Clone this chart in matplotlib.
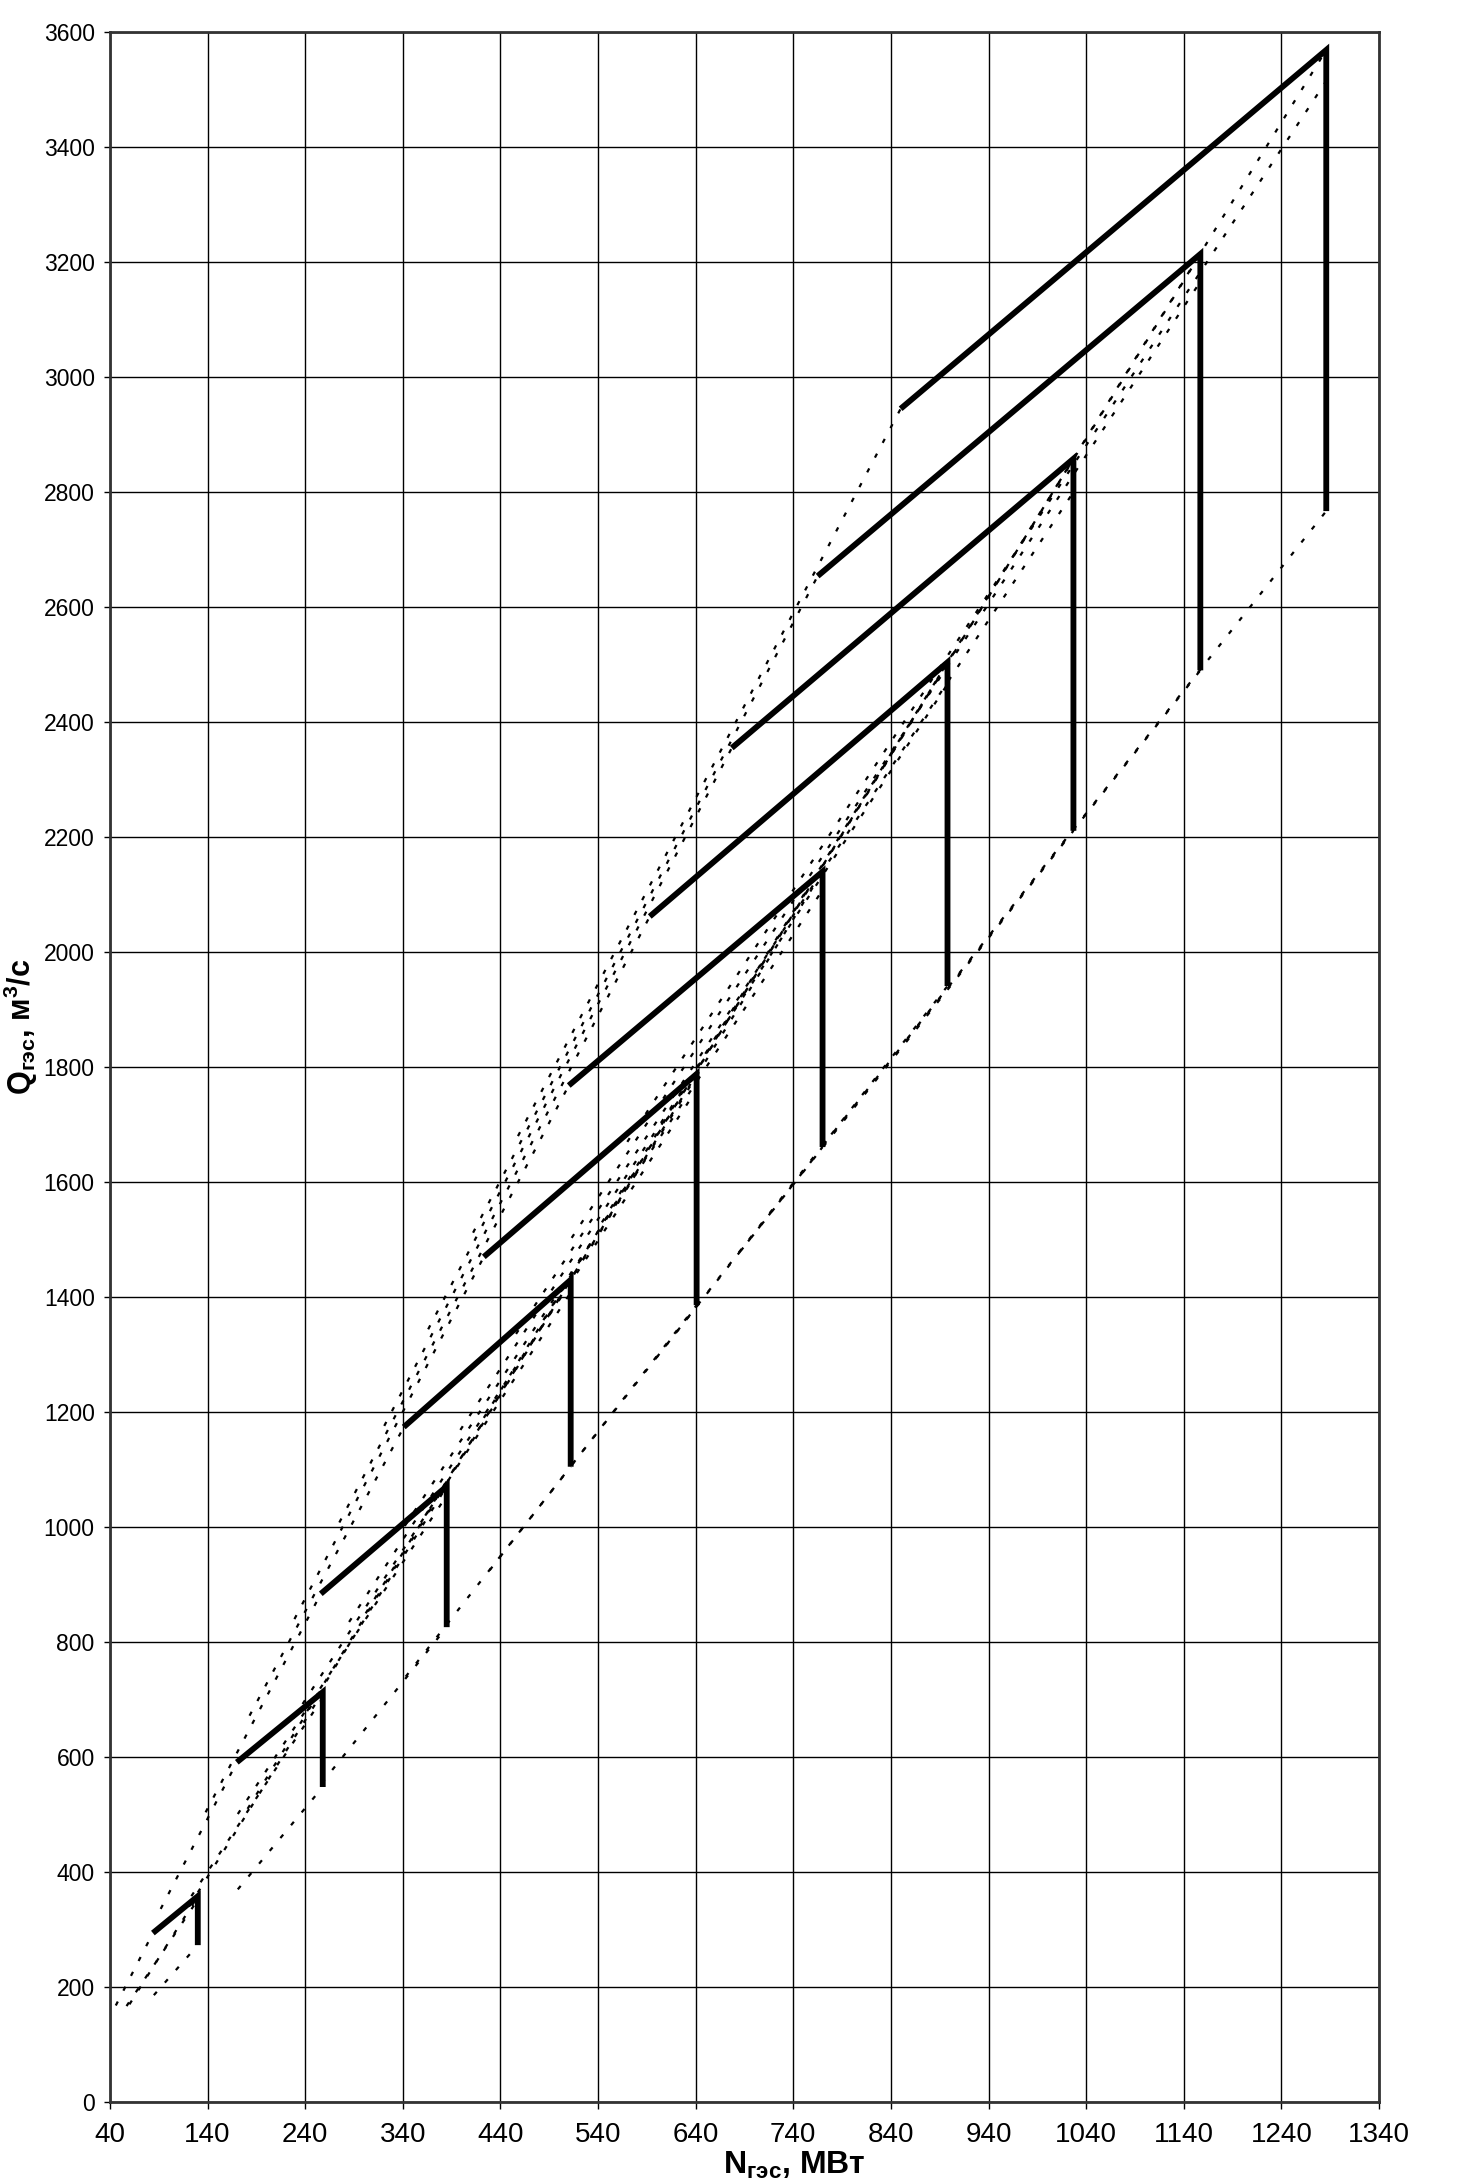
import matplotlib
matplotlib.use("Agg")
import matplotlib.pyplot as plt

plt.rcParams['font.family'] = ['Liberation Sans', 'DejaVu Sans']
plt.rcParams['mathtext.fontset'] = 'custom'
plt.rcParams['mathtext.rm'] = 'Liberation Sans'
plt.rcParams['mathtext.bf'] = 'Liberation Sans:bold'
plt.rcParams['mathtext.it'] = 'Liberation Sans:italic'

# number of working units, 1..10
units = [1, 2, 3, 4, 5, 6, 7, 8, 9, 10]

# solid line: start of zone -> top -> down the vertical (limit by power)
n_start = [84, 170, 256, 341, 423, 510, 593, 677, 765, 850]
q_start = [294, 591, 884, 1174, 1470, 1768, 2062, 2355, 2654, 2945]
n_max = [130, 258, 385, 512, 641, 770, 898, 1027, 1157, 1286]
q_max = [358, 713, 1071, 1430, 1788, 2140, 2504, 2858, 3214, 3569]
q_low = [273, 548, 826, 1105, 1386, 1661, 1941, 2211, 2490, 2767]

# dotted lines, lower-left ends (estimated)
# upper set -> ends at zone start
n_a = [46, 92, 138, 183, 229, 275, 321, 366, 412, 458]
q_a = [168, 336, 504, 672, 840, 1008, 1176, 1344, 1512, 1680]
# middle set -> ends at top
n_b = [60, 121, 181, 242, 302, 363, 423, 484, 544, 605]
q_b = [170, 340, 510, 680, 850, 1020, 1190, 1360, 1530, 1700]
# second middle set -> ends on vertical just below top
n_d = [57, 114, 171, 228, 285, 342, 399, 456, 513, 570]
q_d = [167, 334, 501, 668, 835, 1002, 1169, 1336, 1503, 1670]
q_d_end = [352, 703, 1055, 1408, 1761, 2108, 2466, 2800, 3166, 3515]
# lower set -> ends at bottom of vertical
n_c = [85, 171, 257, 343, 429, 514, 600, 686, 771, 857]
q_c = [186, 370, 555, 740, 925, 1110, 1295, 1480, 1665, 1850]

x_ticks = list(range(40, 1341, 100))
y_ticks = list(range(0, 3601, 200))

fig = plt.figure(figsize=(14.58, 21.84), dpi=100)
ax = fig.add_axes([0.0754, 0.0375, 0.8704, 0.9478])

dot = (0, (2.0, 5.5))
dlw = 1.6
for i in range(len(units)):
    ax.plot([n_a[i], n_start[i]], [q_a[i], q_start[i]], color='black', lw=dlw, ls=dot, zorder=3)
    ax.plot([n_b[i], n_max[i]], [q_b[i], q_max[i]], color='black', lw=dlw, ls=dot, zorder=3)
    ax.plot([n_d[i], n_max[i]], [q_d[i], q_d_end[i]], color='black', lw=dlw, ls=dot, zorder=3)
    ax.plot([n_c[i], n_max[i]], [q_c[i], q_low[i]], color='black', lw=dlw, ls=dot, zorder=3)

for i in range(len(units)):
    ax.plot([n_start[i], n_max[i], n_max[i]], [q_start[i], q_max[i], q_low[i]],
            color='black', lw=4.2, solid_joinstyle='miter', solid_capstyle='butt', zorder=4)

ax.set_xlim(40, 1340)
ax.set_ylim(0, 3600)
ax.set_xticks(x_ticks)
ax.set_yticks(y_ticks)
ax.grid(True, color='black', lw=1.0)
ax.set_axisbelow(True)
ax.tick_params(axis='x', labelsize=20, length=5, width=1, pad=9)
ax.tick_params(axis='y', labelsize=16.5, length=4, width=1, pad=7)
for s in ax.spines.values():
    s.set_color('#333333')
    s.set_linewidth(2)

fig.text(0.545, 0.0046, r'$\mathbf{N_{гэс}}$, МВт', fontsize=23, fontweight='bold',
         ha='center', va='baseline')
fig.text(0.014, 0.530, r'$\mathbf{Q_{гэс}}$, м$^{\mathbf{3}}$/с', fontsize=22, fontweight='bold',
         ha='center', va='center', rotation=90)

fig.savefig('out.png', dpi=100)
